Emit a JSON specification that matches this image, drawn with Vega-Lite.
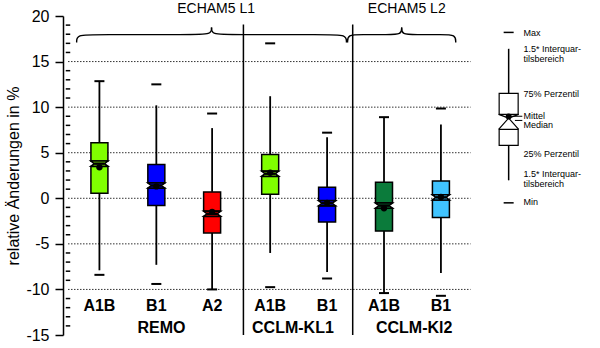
{
  "$schema": "https://vega.github.io/schema/vega-lite/v6.json",
  "width": 537,
  "height": 319,
  "autosize": {"type": "none"},
  "padding": {"left": 63, "top": 16, "right": 0, "bottom": 13},
  "background": "white",
  "config": {"view": {"stroke": null}, "font": "Liberation Sans"},
  "datasets": {
    "boxes": [
      {"pos": 1, "scen": "A1B", "c": "#80FF00", "min": -8.4, "wlo": -7.9, "q1": 0.55, "nlo": 3.5, "med": 3.8, "nhi": 4.1, "mean": 3.4, "q3": 6.1, "whi": 12.85, "max": 12.85},
      {"pos": 2, "scen": "B1", "c": "#0000FF", "min": -9.4, "wlo": -7.3, "q1": -0.8, "nlo": 1.1, "med": 1.4, "nhi": 1.7, "mean": 1.3, "q3": 3.7, "whi": 10.2, "max": 12.5},
      {"pos": 2.98, "scen": "A2", "c": "#FF0000", "min": -10.0, "wlo": -10.0, "q1": -3.8, "nlo": -2.0, "med": -1.7, "nhi": -1.4, "mean": -1.5, "q3": 0.7, "whi": 7.7, "max": 9.3},
      {"pos": 4, "scen": "A1B", "c": "#80FF00", "min": -9.75, "wlo": -6.0, "q1": 0.45, "nlo": 2.4, "med": 2.7, "nhi": 3.0, "mean": 2.8, "q3": 4.8, "whi": 11.2, "max": 17.0},
      {"pos": 5, "scen": "B1", "c": "#0000FF", "min": -8.8, "wlo": -8.1, "q1": -2.6, "nlo": -0.85, "med": -0.55, "nhi": -0.25, "mean": -0.5, "q3": 1.2, "whi": 6.7, "max": 7.2},
      {"pos": 6, "scen": "A1B", "c": "#0B7B3B", "min": -10.4, "wlo": -10.4, "q1": -3.6, "nlo": -1.1, "med": -0.8, "nhi": -0.5, "mean": -1.1, "q3": 1.75, "whi": 8.9, "max": 8.9},
      {"pos": 7, "scen": "B1", "c": "#40C4FF", "min": -10.7, "wlo": -8.2, "q1": -2.1, "nlo": -0.2, "med": 0.1, "nhi": 0.4, "mean": 0.15, "q3": 1.9, "whi": 8.1, "max": 9.85}
    ],
    "legend": [
      {"pos": 8.19, "min": -0.5, "wlo": 1.97, "q1": 5.8, "nlo": 7.56, "med": 8.8, "nhi": 9.2, "q3": 11.5, "whi": 16.4, "max": 18.2, "mean": 8.98}
    ],
    "legendText": [
      {"t": "Max", "y": 18.18},
      {"t": "1.5* Interquar-", "y": 16.43},
      {"t": "tilsbereich", "y": 15.33},
      {"t": "75% Perzentil", "y": 11.39},
      {"t": "Mittel", "y": 9.08},
      {"t": "Median", "y": 8.02},
      {"t": "25% Perzentil", "y": 4.82},
      {"t": "1.5* Interquar-", "y": 2.63},
      {"t": "tilsbereich", "y": 1.53},
      {"t": "Min", "y": -0.44}
    ],
    "grid": [{"v": 15}, {"v": 10}, {"v": 5}, {"v": 0}, {"v": -5}, {"v": -10}],
    "minor": [
      {"v": -14}, {"v": -13}, {"v": -12}, {"v": -11}, {"v": -9}, {"v": -8}, {"v": -7}, {"v": -6},
      {"v": -4}, {"v": -3}, {"v": -2}, {"v": -1}, {"v": 1}, {"v": 2}, {"v": 3}, {"v": 4},
      {"v": 6}, {"v": 7}, {"v": 8}, {"v": 9}, {"v": 11}, {"v": 12}, {"v": 13}, {"v": 14},
      {"v": 16}, {"v": 17}, {"v": 18}, {"v": 19}
    ],
    "div": [{"x": 3.53}, {"x": 5.45}],
    "groups": [
      {"g": "REMO", "x": 2.09},
      {"g": "CCLM-KL1", "x": 4.4},
      {"g": "CCLM-Kl2", "x": 6.53}
    ],
    "echam": [
      {"t": "ECHAM5 L1", "x": 3.05},
      {"t": "ECHAM5 L2", "x": 6.4}
    ],
    "braces": [
      {"b": "1a", "i": 0, "x": 0.6, "y": 17.1},
      {"b": "1a", "i": 1, "x": 0.6, "y": 17.96},
      {"b": "1a", "i": 2, "x": 0.95, "y": 17.96},
      {"b": "1a", "i": 3, "x": 2.62, "y": 17.96},
      {"b": "1a", "i": 4, "x": 2.97, "y": 17.96},
      {"b": "1a", "i": 5, "x": 2.97, "y": 18.73},
      {"b": "1b", "i": 0, "x": 2.97, "y": 18.73},
      {"b": "1b", "i": 1, "x": 2.97, "y": 17.96},
      {"b": "1b", "i": 2, "x": 3.32, "y": 17.96},
      {"b": "1b", "i": 3, "x": 4.99, "y": 17.96},
      {"b": "1b", "i": 4, "x": 5.34, "y": 17.96},
      {"b": "1b", "i": 5, "x": 5.34, "y": 17.1},
      {"b": "2a", "i": 0, "x": 5.36, "y": 17.1},
      {"b": "2a", "i": 1, "x": 5.36, "y": 17.96},
      {"b": "2a", "i": 2, "x": 5.6, "y": 17.96},
      {"b": "2a", "i": 3, "x": 6.07, "y": 17.96},
      {"b": "2a", "i": 4, "x": 6.31, "y": 17.96},
      {"b": "2a", "i": 5, "x": 6.31, "y": 18.73},
      {"b": "2b", "i": 0, "x": 6.31, "y": 18.73},
      {"b": "2b", "i": 1, "x": 6.31, "y": 17.96},
      {"b": "2b", "i": 2, "x": 6.55, "y": 17.96},
      {"b": "2b", "i": 3, "x": 7.02, "y": 17.96},
      {"b": "2b", "i": 4, "x": 7.26, "y": 17.96},
      {"b": "2b", "i": 5, "x": 7.26, "y": 17.1}
    ]
  },
  "layer": [
    {
      "data": {"name": "grid"},
      "mark": {"type": "rule", "strokeDash": [1.5, 1.5], "color": "#333333", "strokeWidth": 1},
      "encoding": {
        "x": {"datum": 0.448, "type": "quantitative", "scale": {"domain": [0.448, 9.707], "nice": false, "zero": false}, "axis": null},
        "x2": {"datum": 7.52},
        "y": {
          "field": "v", "type": "quantitative",
          "scale": {"domain": [-15, 20], "nice": false, "zero": false},
          "axis": {
            "orient": "left",
            "values": [-15, -10, -5, 0, 5, 10, 15, 20],
            "labelExpr": "toString(datum.value)",
            "labelOverlap": false,
            "labelBound": false,
            "labelFlush": false,
            "tickSize": 8,
            "tickWidth": 1.5,
            "tickColor": "black",
            "domainColor": "black",
            "domainWidth": 1.5,
            "grid": false,
            "labelFont": "Liberation Sans",
            "labelFontSize": 16,
            "labelColor": "black",
            "labelPadding": 6,
            "title": "relative Änderungen in %",
            "titleFont": "Liberation Sans",
            "titleFontSize": 16,
            "titleFontWeight": "normal",
            "titleColor": "black",
            "titlePadding": 4
          }
        }
      }
    },
    {
      "data": {"name": "minor"},
      "mark": {"type": "point", "shape": "stroke", "size": 20, "filled": false, "strokeWidth": 1.5, "color": "black", "opacity": 1},
      "encoding": {
        "x": {"datum": 0.448, "type": "quantitative", "axis": null},
        "y": {"field": "v", "type": "quantitative"}
      }
    },
    {
      "data": {"name": "braces"},
      "mark": {"type": "line", "interpolate": "basis", "color": "black", "strokeWidth": 1.4},
      "encoding": {
        "x": {"field": "x", "type": "quantitative", "axis": null},
        "y": {"field": "y", "type": "quantitative"},
        "detail": {"field": "b"},
        "order": {"field": "i", "type": "quantitative"}
      }
    },
    {
      "data": {"name": "div"},
      "mark": {"type": "rule", "strokeWidth": 1.5, "color": "black"},
      "encoding": {
        "x": {"field": "x", "type": "quantitative", "axis": null},
        "y": {"datum": 19.06, "type": "quantitative"},
        "y2": {"datum": -15}
      }
    },
    {
      "data": {"name": "boxes"},
      "layer": [
        {
          "mark": {"type": "rule", "strokeWidth": 1.8, "color": "black"},
          "encoding": {"y": {"field": "q3", "type": "quantitative"}, "y2": {"field": "whi"}}
        },
        {
          "mark": {"type": "rule", "strokeWidth": 1.8, "color": "black"},
          "encoding": {"y": {"field": "wlo", "type": "quantitative"}, "y2": {"field": "q1"}}
        },
        {
          "mark": {"type": "point", "shape": "stroke", "size": 100, "filled": false, "strokeWidth": 2, "color": "black", "opacity": 1},
          "encoding": {"y": {"field": "max", "type": "quantitative"}}
        },
        {
          "mark": {"type": "point", "shape": "stroke", "size": 100, "filled": false, "strokeWidth": 2, "color": "black", "opacity": 1},
          "encoding": {"y": {"field": "min", "type": "quantitative"}}
        },
        {
          "mark": {"type": "bar", "width": 17, "stroke": "black", "strokeWidth": 1.5, "opacity": 1},
          "encoding": {"y": {"field": "nhi", "type": "quantitative"}, "y2": {"field": "q3"}, "fill": {"field": "c", "type": "nominal", "scale": null}}
        },
        {
          "mark": {"type": "bar", "width": 17, "stroke": "black", "strokeWidth": 1.5, "opacity": 1},
          "encoding": {"y": {"field": "q1", "type": "quantitative"}, "y2": {"field": "nlo"}, "fill": {"field": "c", "type": "nominal", "scale": null}}
        },
        {
          "mark": {"type": "point", "shape": "M -1 -0.3 L -0.6 0 L -1 0.3 L 1 0.3 L 0.6 0 L 1 -0.3 Z", "size": 289, "filled": true, "stroke": "black", "strokeWidth": 1.5, "opacity": 1},
          "encoding": {"y": {"field": "med", "type": "quantitative"}, "fill": {"field": "c", "type": "nominal", "scale": null}}
        },
        {
          "mark": {"type": "point", "shape": "stroke", "size": 110, "filled": false, "strokeWidth": 2.5, "color": "black", "opacity": 1},
          "encoding": {"y": {"field": "med", "type": "quantitative"}}
        },
        {
          "mark": {"type": "circle", "size": 40, "color": "black", "opacity": 1},
          "encoding": {"y": {"field": "mean", "type": "quantitative"}}
        },
        {
          "mark": {"type": "text", "font": "Liberation Sans", "fontSize": 16, "fontWeight": "bold", "color": "black", "baseline": "middle"},
          "encoding": {"y": {"datum": -11.85, "type": "quantitative"}, "text": {"field": "scen"}}
        }
      ],
      "encoding": {"x": {"field": "pos", "type": "quantitative", "axis": null}}
    },
    {
      "data": {"name": "groups"},
      "mark": {"type": "text", "font": "Liberation Sans", "fontSize": 16, "fontWeight": "bold", "color": "black", "baseline": "middle"},
      "encoding": {
        "x": {"field": "x", "type": "quantitative", "axis": null},
        "y": {"datum": -14.25, "type": "quantitative"},
        "text": {"field": "g"}
      }
    },
    {
      "data": {"name": "echam"},
      "mark": {"type": "text", "font": "Liberation Sans", "fontSize": 14, "color": "black", "baseline": "middle"},
      "encoding": {
        "x": {"field": "x", "type": "quantitative", "axis": null},
        "y": {"datum": 20.8, "type": "quantitative"},
        "text": {"field": "t"}
      }
    },
    {
      "data": {"name": "legend"},
      "layer": [
        {
          "mark": {"type": "rule", "strokeWidth": 1.5, "color": "black"},
          "encoding": {"y": {"field": "q3", "type": "quantitative"}, "y2": {"field": "whi"}}
        },
        {
          "mark": {"type": "rule", "strokeWidth": 1.5, "color": "black"},
          "encoding": {"y": {"field": "wlo", "type": "quantitative"}, "y2": {"field": "q1"}}
        },
        {
          "mark": {"type": "point", "shape": "stroke", "size": 100, "filled": false, "strokeWidth": 1.5, "color": "black", "opacity": 1},
          "encoding": {"y": {"field": "max", "type": "quantitative"}}
        },
        {
          "mark": {"type": "point", "shape": "stroke", "size": 100, "filled": false, "strokeWidth": 1.5, "color": "black", "opacity": 1},
          "encoding": {"y": {"field": "min", "type": "quantitative"}}
        },
        {
          "mark": {"type": "bar", "width": 19, "stroke": "black", "strokeWidth": 1.2, "fill": "white", "opacity": 1},
          "encoding": {"y": {"field": "nhi", "type": "quantitative"}, "y2": {"field": "q3"}}
        },
        {
          "mark": {"type": "bar", "width": 19, "stroke": "black", "strokeWidth": 1.2, "fill": "white", "opacity": 1},
          "encoding": {"y": {"field": "q1", "type": "quantitative"}, "y2": {"field": "nlo"}}
        },
        {
          "mark": {"type": "point", "shape": "M -1 -0.37 L 0 0 L -1 1.13 M 1 -0.37 L 0 0 L 1 1.13", "size": 400, "filled": false, "strokeWidth": 1.2, "color": "black", "opacity": 1},
          "encoding": {"y": {"field": "med", "type": "quantitative"}}
        },
        {
          "mark": {"type": "circle", "size": 36, "color": "black", "opacity": 1},
          "encoding": {"y": {"field": "mean", "type": "quantitative"}}
        }
      ],
      "encoding": {"x": {"field": "pos", "type": "quantitative", "axis": null}}
    },
    {
      "data": {"values": [{"a": 1}]},
      "layer": [
        {
          "mark": {"type": "rule", "strokeWidth": 1, "color": "black"},
          "encoding": {
            "x": {"datum": 8.2, "type": "quantitative", "axis": null},
            "x2": {"datum": 8.43},
            "y": {"datum": 9.0, "type": "quantitative"}
          }
        },
        {
          "mark": {"type": "rule", "strokeWidth": 1, "color": "black"},
          "encoding": {
            "x": {"datum": 8.3, "type": "quantitative", "axis": null},
            "x2": {"datum": 8.43},
            "y": {"datum": 8.54, "type": "quantitative"}
          }
        }
      ]
    },
    {
      "data": {"name": "legendText"},
      "mark": {"type": "text", "font": "Liberation Sans", "fontSize": 9, "color": "black", "align": "left", "baseline": "middle"},
      "encoding": {
        "x": {"datum": 8.45, "type": "quantitative", "axis": null},
        "y": {"field": "y", "type": "quantitative"},
        "text": {"field": "t"}
      }
    }
  ]
}
